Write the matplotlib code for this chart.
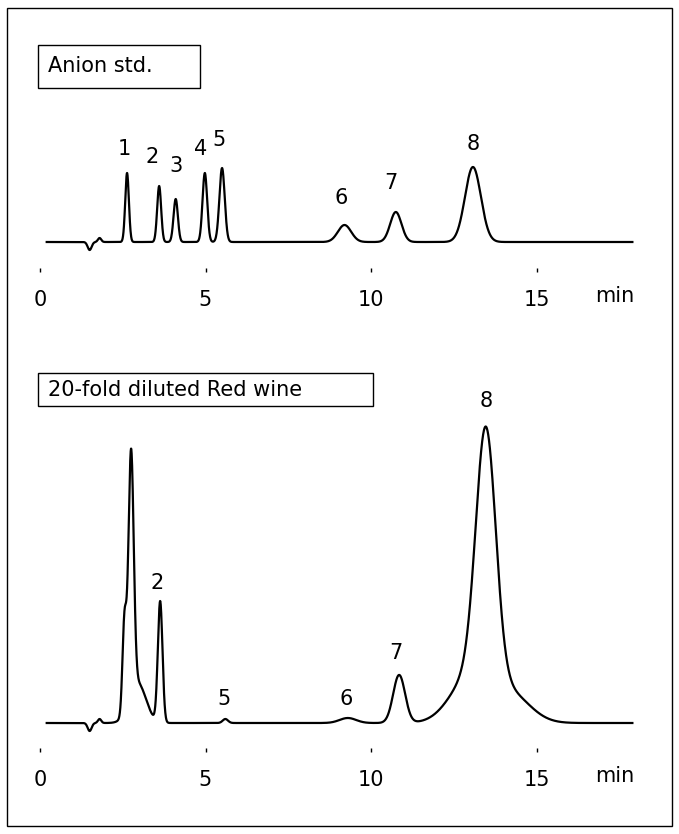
import numpy as np
import matplotlib
matplotlib.use("Agg")
import matplotlib.pyplot as plt
from matplotlib.patches import Rectangle

W, H = 679, 834
# top: standard
std_t = [1.50, 1.80, 2.63, 3.60, 4.10, 4.98, 5.50, 9.20, 10.75, 13.08]
std_h = [-8, 4, 69, 56, 43, 69, 74, 17, 30, 75]
std_s = [0.06, 0.05, 0.055, 0.06, 0.065, 0.07, 0.08, 0.2, 0.17, 0.24]
std_lab = ["1", "2", "3", "4", "5", "6", "7", "8"]
std_lab_t = [2.55, 3.4, 4.1, 4.85, 5.4, 9.1, 10.6, 13.08]
std_lab_y = [83, 75, 66, 83, 92, 34, 49, 88]
# bottom: red wine
wine_t = [1.50, 1.80, 2.55, 2.75, 2.95, 3.63, 5.60, 9.30, 10.85, 13.47, 13.0, 14.2]
wine_h = [-8, 4, 90, 245, 40, 121, 4, 5, 48, 250, 45, 28]
wine_s = [0.06, 0.05, 0.06, 0.08, 0.25, 0.07, 0.08, 0.25, 0.18, 0.3, 0.6, 0.6]
wine_lab = ["2", "5", "6", "7", "8"]
wine_lab_t = [3.55, 5.55, 9.25, 10.75, 13.47]
wine_lab_y = [130, 14, 14, 60, 312]
ticks = [0, 5, 10, 15]

fig = plt.figure(figsize=(W/100, H/100), dpi=100)
fig.patches.append(Rectangle((7/W, 8/H), 665/W, 818/H, transform=fig.transFigure,
                             fill=False, lw=1, ec="black"))

def panel(top, bot, base, spine, t, h, s, lab, lab_t, lab_y, title, box):
    ax = fig.add_axes([20/W, 1-bot/H, 630/W, (bot-top)/H])
    ax.set_xlim((20-40)/33.1, (650-40)/33.1)
    ax.set_ylim(-(bot-base), base-top)
    x = np.linspace(-0.6, 18.4, 4000)
    y = np.zeros_like(x)
    for ti, hi, si in zip(t, h, s):
        y += hi*np.exp(-0.5*((x-ti)/si)**2)
    m = (x >= 0.2) & (x <= 17.9)
    ax.plot(x[m], y[m], color="black", lw=1.6)
    for L, lt, ly in zip(lab, lab_t, lab_y):
        ax.text(lt, ly, L, ha="center", va="bottom", fontsize=15)
    for sp in ["top", "right", "left"]:
        ax.spines[sp].set_visible(False)
    ax.spines["bottom"].set_position(("data", -(spine-base)))
    ax.spines["bottom"].set_visible(False)
    ax.set_yticks([])
    ax.set_xticks(ticks)
    ax.tick_params(axis="x", direction="in", length=3, width=1, pad=13, labelsize=15)
    ax.text(17.37, -(spine-base)-14, "min", ha="center", va="top", fontsize=15)
    x0, y0, x1, y1 = box
    fig.patches.append(Rectangle((x0/W, 1-y1/H), (x1-x0)/W, (y1-y0)/H,
                                 transform=fig.transFigure, fill=False, ec="black", lw=1))
    fig.text((x0+10)/W, 1-((y0+y1)/2)/H, title, fontsize=15, va="center", ha="left")
    ax.patch.set_visible(False)

panel(120, 300, 242, 272, std_t, std_h, std_s, std_lab, std_lab_t, std_lab_y,
      "Anion std.", (38, 45, 200, 88))
panel(400, 790, 723, 752, wine_t, wine_h, wine_s, wine_lab, wine_lab_t, wine_lab_y,
      "20-fold diluted Red wine", (38, 373, 373, 406))
fig.savefig("out.png", dpi=100)
